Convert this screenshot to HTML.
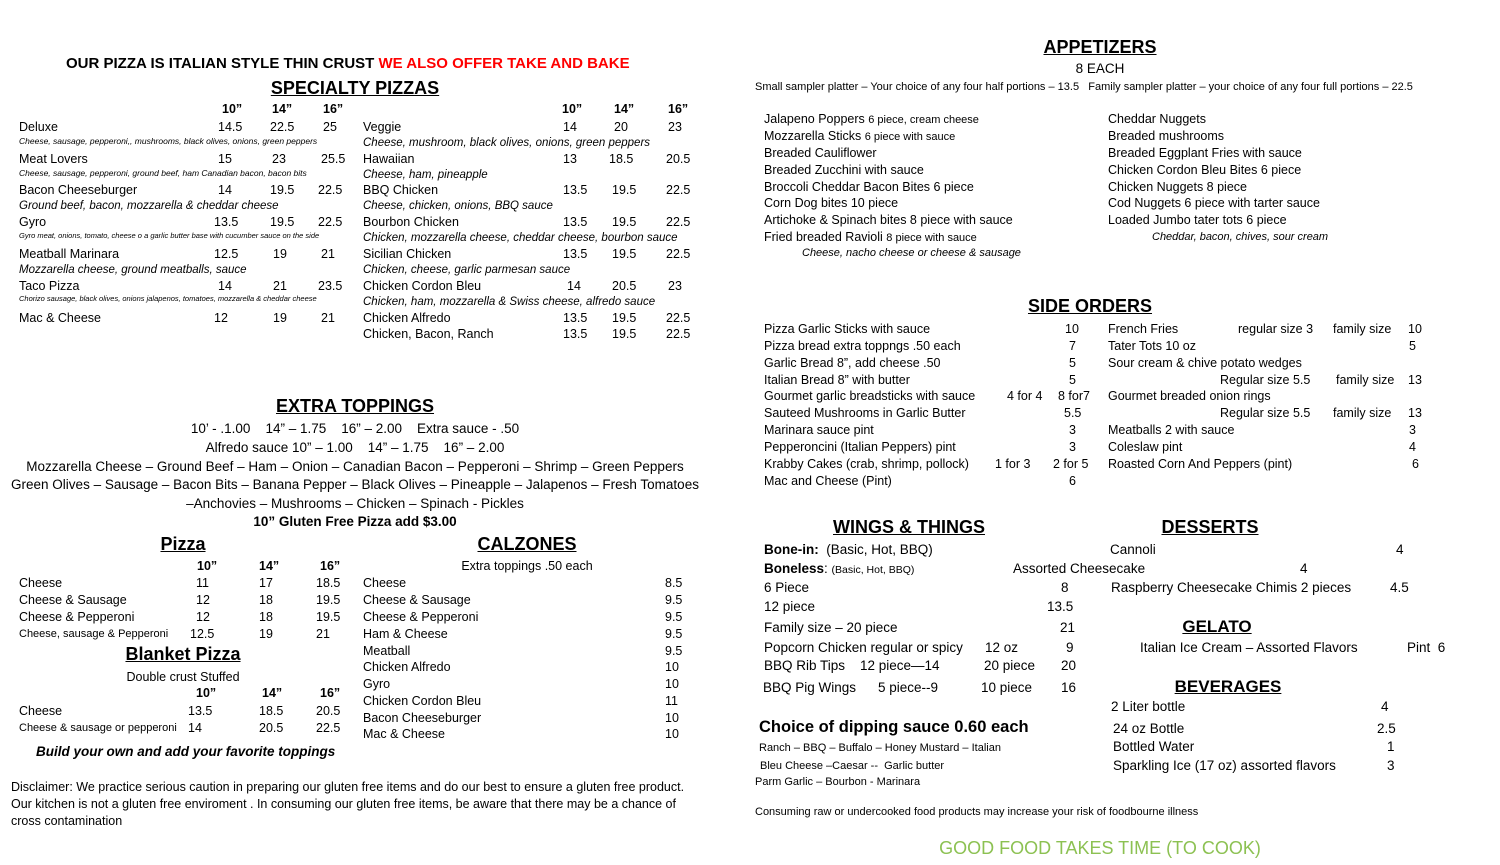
<!DOCTYPE html>
<html><head><meta charset="utf-8"><style>
body{margin:0;width:1500px;height:865px;background:#fff;position:relative;overflow:hidden;font-family:"Liberation Sans",sans-serif;color:#000}
div{position:absolute;white-space:nowrap;line-height:18px;font-size:12.5px}
.c{transform:translateX(-50%)}
.h{font-weight:bold;font-size:18px;text-decoration:underline;line-height:21px}
.s{font-size:8.5px;font-style:italic}
.i{font-style:italic;font-size:11.5px}
.m{font-size:13.5px}
.b{font-weight:bold}
</style></head><body>
<div class="b" style="left:66px;top:54px;font-size:15px;line-height:19px">OUR PIZZA IS ITALIAN STYLE THIN CRUST <span style="color:#ff0000">WE ALSO OFFER TAKE AND BAKE</span></div>
<div class="h c" style="left:355px;top:78px">SPECIALTY PIZZAS</div>
<div class="b" style="left:222px;top:100px">10”</div><div class="b" style="left:272px;top:100px">14”</div><div class="b" style="left:323px;top:100px">16”</div>
<div class="b" style="left:562px;top:100px">10”</div><div class="b" style="left:614px;top:100px">14”</div><div class="b" style="left:668px;top:100px">16”</div>

<div style="left:19px;top:118px">Deluxe</div><div style="left:218px;top:118px">14.5</div><div style="left:270px;top:118px">22.5</div><div style="left:323px;top:118px">25</div>
<div class="s" style="left:19px;top:132px">Cheese, sausage, pepperoni,, mushrooms, black olives, onions, green peppers</div>
<div style="left:19px;top:150px">Meat Lovers</div><div style="left:218px;top:150px">15</div><div style="left:272px;top:150px">23</div><div style="left:321px;top:150px">25.5</div>
<div class="s" style="left:19px;top:164px">Cheese, sausage, pepperoni, ground beef, ham Canadian bacon, bacon bits</div>
<div style="left:19px;top:181px">Bacon Cheeseburger</div><div style="left:218px;top:181px">14</div><div style="left:270px;top:181px">19.5</div><div style="left:318px;top:181px">22.5</div>
<div class="i" style="left:19px;top:197px">Ground beef, bacon, mozzarella &amp; cheddar cheese</div>
<div style="left:19px;top:213px">Gyro</div><div style="left:214px;top:213px">13.5</div><div style="left:270px;top:213px">19.5</div><div style="left:318px;top:213px">22.5</div>
<div class="s" style="left:19px;top:227px;font-size:7.5px">Gyro meat, onions, tomato, cheese o a garlic butter base with cucumber sauce on the side</div>
<div style="left:19px;top:245px">Meatball Marinara</div><div style="left:214px;top:245px">12.5</div><div style="left:273px;top:245px">19</div><div style="left:321px;top:245px">21</div>
<div class="i" style="left:19px;top:261px">Mozzarella cheese, ground meatballs, sauce</div>
<div style="left:19px;top:277px">Taco Pizza</div><div style="left:218px;top:277px">14</div><div style="left:273px;top:277px">21</div><div style="left:318px;top:277px">23.5</div>
<div class="s" style="left:19px;top:290px;font-size:7.5px">Chorizo sausage, black olives, onions jalapenos, tomatoes, mozzarella &amp; cheddar cheese</div>
<div style="left:19px;top:309px">Mac &amp; Cheese</div><div style="left:214px;top:309px">12</div><div style="left:273px;top:309px">19</div><div style="left:321px;top:309px">21</div>

<div style="left:363px;top:118px">Veggie</div><div style="left:563px;top:118px">14</div><div style="left:614px;top:118px">20</div><div style="left:668px;top:118px">23</div>
<div class="i" style="left:363px;top:134px">Cheese, mushroom, black olives, onions, green peppers</div>
<div style="left:363px;top:150px">Hawaiian</div><div style="left:563px;top:150px">13</div><div style="left:609px;top:150px">18.5</div><div style="left:666px;top:150px">20.5</div>
<div class="i" style="left:363px;top:166px">Cheese, ham, pineapple</div>
<div style="left:363px;top:181px">BBQ Chicken</div><div style="left:563px;top:181px">13.5</div><div style="left:612px;top:181px">19.5</div><div style="left:666px;top:181px">22.5</div>
<div class="i" style="left:363px;top:197px">Cheese, chicken, onions, BBQ sauce</div>
<div style="left:363px;top:213px">Bourbon Chicken</div><div style="left:563px;top:213px">13.5</div><div style="left:612px;top:213px">19.5</div><div style="left:666px;top:213px">22.5</div>
<div class="i" style="left:363px;top:229px">Chicken, mozzarella cheese, cheddar cheese, bourbon sauce</div>
<div style="left:363px;top:245px">Sicilian Chicken</div><div style="left:563px;top:245px">13.5</div><div style="left:612px;top:245px">19.5</div><div style="left:666px;top:245px">22.5</div>
<div class="i" style="left:363px;top:261px">Chicken, cheese, garlic parmesan sauce</div>
<div style="left:363px;top:277px">Chicken Cordon Bleu</div><div style="left:567px;top:277px">14</div><div style="left:612px;top:277px">20.5</div><div style="left:668px;top:277px">23</div>
<div class="i" style="left:363px;top:293px">Chicken, ham, mozzarella &amp; Swiss cheese, alfredo sauce</div>
<div style="left:363px;top:309px">Chicken Alfredo</div><div style="left:563px;top:309px">13.5</div><div style="left:612px;top:309px">19.5</div><div style="left:666px;top:309px">22.5</div>
<div style="left:363px;top:325px">Chicken, Bacon, Ranch</div><div style="left:563px;top:325px">13.5</div><div style="left:612px;top:325px">19.5</div><div style="left:666px;top:325px">22.5</div>

<div class="h c" style="left:355px;top:396px">EXTRA TOPPINGS</div>
<div class="m c" style="left:355px;top:420px">10’ - .1.00 &nbsp;&nbsp; 14” – 1.75 &nbsp;&nbsp; 16” – 2.00 &nbsp;&nbsp; Extra sauce - .50</div>
<div class="m c" style="left:355px;top:439px">Alfredo sauce 10” – 1.00 &nbsp;&nbsp; 14” – 1.75 &nbsp;&nbsp; 16” – 2.00</div>
<div class="m c" style="left:355px;top:458px">Mozzarella Cheese – Ground Beef – Ham – Onion – Canadian Bacon – Pepperoni – Shrimp – Green Peppers</div>
<div class="m c" style="left:355px;top:476px">Green Olives – Sausage – Bacon Bits – Banana Pepper – Black Olives – Pineapple – Jalapenos – Fresh Tomatoes</div>
<div class="m c" style="left:355px;top:495px">–Anchovies – Mushrooms – Chicken – Spinach - Pickles</div>
<div class="m c b" style="left:355px;top:513px">10” Gluten Free Pizza add $3.00</div>

<div class="h c" style="left:183px;top:534px">Pizza</div>
<div class="b" style="left:197px;top:557px">10”</div><div class="b" style="left:259px;top:557px">14”</div><div class="b" style="left:320px;top:557px">16”</div>
<div style="left:19px;top:574px">Cheese</div><div style="left:196px;top:574px">11</div><div style="left:259px;top:574px">17</div><div style="left:316px;top:574px">18.5</div>
<div style="left:19px;top:591px">Cheese &amp; Sausage</div><div style="left:196px;top:591px">12</div><div style="left:259px;top:591px">18</div><div style="left:316px;top:591px">19.5</div>
<div style="left:19px;top:608px">Cheese &amp; Pepperoni</div><div style="left:196px;top:608px">12</div><div style="left:259px;top:608px">18</div><div style="left:316px;top:608px">19.5</div>
<div style="left:19px;top:625px;font-size:11px">Cheese, sausage &amp; Pepperoni</div><div style="left:190px;top:625px">12.5</div><div style="left:259px;top:625px">19</div><div style="left:316px;top:625px">21</div>
<div class="h c" style="left:183px;top:644px">Blanket Pizza</div>
<div class="c" style="left:183px;top:668px">Double crust Stuffed</div>
<div class="b" style="left:196px;top:684px">10”</div><div class="b" style="left:262px;top:684px">14”</div><div class="b" style="left:320px;top:684px">16”</div>
<div style="left:19px;top:702px">Cheese</div><div style="left:188px;top:702px">13.5</div><div style="left:259px;top:702px">18.5</div><div style="left:316px;top:702px">20.5</div>
<div style="left:19px;top:719px;font-size:11px">Cheese &amp; sausage or pepperoni</div><div style="left:188px;top:719px">14</div><div style="left:259px;top:719px">20.5</div><div style="left:316px;top:719px">22.5</div>
<div class="b" style="left:36px;top:743px;font-style:italic;font-size:13.5px">Build your own and add your favorite toppings</div>
<div style="left:11px;top:778px">Disclaimer: We practice serious caution in preparing our gluten free items and do our best to ensure a gluten free product.</div>
<div style="left:11px;top:795px">Our kitchen is not a gluten free enviroment . In consuming our gluten free items, be aware that there may be a chance of</div>
<div style="left:11px;top:812px">cross contamination</div>

<div class="h c" style="left:527px;top:534px">CALZONES</div>
<div class="c" style="left:527px;top:557px">Extra toppings .50 each</div>
<div style="left:363px;top:574px">Cheese</div><div style="left:665px;top:574px">8.5</div>
<div style="left:363px;top:591px">Cheese &amp; Sausage</div><div style="left:665px;top:591px">9.5</div>
<div style="left:363px;top:608px">Cheese &amp; Pepperoni</div><div style="left:665px;top:608px">9.5</div>
<div style="left:363px;top:625px">Ham &amp; Cheese</div><div style="left:665px;top:625px">9.5</div>
<div style="left:363px;top:642px">Meatball</div><div style="left:665px;top:642px">9.5</div>
<div style="left:363px;top:658px">Chicken Alfredo</div><div style="left:665px;top:658px">10</div>
<div style="left:363px;top:675px">Gyro</div><div style="left:665px;top:675px">10</div>
<div style="left:363px;top:692px">Chicken Cordon Bleu</div><div style="left:665px;top:692px">11</div>
<div style="left:363px;top:709px">Bacon Cheeseburger</div><div style="left:665px;top:709px">10</div>
<div style="left:363px;top:725px">Mac &amp; Cheese</div><div style="left:665px;top:725px">10</div>

<div class="h c" style="left:1100px;top:37px">APPETIZERS</div>
<div class="c m" style="left:1100px;top:60px">8 EACH</div>
<div style="left:755px;top:78px;font-size:11px">Small sampler platter – Your choice of any four half portions – 13.5 &nbsp; Family sampler platter – your choice of any four full portions – 22.5</div>
<div style="left:764px;top:110px">Jalapeno Poppers <span style="font-size:11px">6 piece, cream cheese</span></div>
<div style="left:764px;top:127px">Mozzarella Sticks <span style="font-size:11px">6 piece with sauce</span></div>
<div style="left:764px;top:144px">Breaded Cauliflower</div>
<div style="left:764px;top:161px">Breaded Zucchini with sauce</div>
<div style="left:764px;top:178px">Broccoli Cheddar Bacon Bites 6 piece</div>
<div style="left:764px;top:194px">Corn Dog bites 10 piece</div>
<div style="left:764px;top:211px">Artichoke &amp; Spinach bites 8 piece with sauce</div>
<div style="left:764px;top:228px">Fried breaded Ravioli <span style="font-size:11px">8 piece with sauce</span></div>
<div class="i" style="left:802px;top:244px;font-size:11px">Cheese, nacho cheese or cheese &amp; sausage</div>
<div style="left:1108px;top:110px">Cheddar Nuggets</div>
<div style="left:1108px;top:127px">Breaded mushrooms</div>
<div style="left:1108px;top:144px">Breaded Eggplant Fries with sauce</div>
<div style="left:1108px;top:161px">Chicken Cordon Bleu Bites 6 piece</div>
<div style="left:1108px;top:178px">Chicken Nuggets 8 piece</div>
<div style="left:1108px;top:194px">Cod Nuggets 6 piece with tarter sauce</div>
<div style="left:1108px;top:211px">Loaded Jumbo tater tots 6 piece</div>
<div class="i" style="left:1152px;top:228px;font-size:11px">Cheddar, bacon, chives, sour cream</div>

<div class="h c" style="left:1090px;top:296px">SIDE ORDERS</div>
<div style="left:764px;top:320px">Pizza Garlic Sticks with sauce</div><div style="left:1065px;top:320px">10</div>
<div style="left:764px;top:337px">Pizza bread extra toppngs .50 each</div><div style="left:1069px;top:337px">7</div>
<div style="left:764px;top:354px">Garlic Bread 8”, add cheese .50</div><div style="left:1069px;top:354px">5</div>
<div style="left:764px;top:371px">Italian Bread 8” with butter</div><div style="left:1069px;top:371px">5</div>
<div style="left:764px;top:387px">Gourmet garlic breadsticks with sauce</div><div style="left:1007px;top:387px">4 for 4</div><div style="left:1058px;top:387px">8 for7</div>
<div style="left:764px;top:404px">Sauteed Mushrooms in Garlic Butter</div><div style="left:1064px;top:404px">5.5</div>
<div style="left:764px;top:421px">Marinara sauce pint</div><div style="left:1069px;top:421px">3</div>
<div style="left:764px;top:438px">Pepperoncini (Italian Peppers) pint</div><div style="left:1069px;top:438px">3</div>
<div style="left:764px;top:455px">Krabby Cakes (crab, shrimp, pollock)</div><div style="left:995px;top:455px">1 for 3</div><div style="left:1053px;top:455px">2 for 5</div>
<div style="left:764px;top:472px">Mac and Cheese (Pint)</div><div style="left:1069px;top:472px">6</div>
<div style="left:1108px;top:320px">French Fries</div><div style="left:1238px;top:320px">regular size 3</div><div style="left:1333px;top:320px">family size</div><div style="left:1408px;top:320px">10</div>
<div style="left:1108px;top:337px">Tater Tots 10 oz</div><div style="left:1409px;top:337px">5</div>
<div style="left:1108px;top:354px">Sour cream &amp; chive potato wedges</div>
<div style="left:1220px;top:371px">Regular size 5.5</div><div style="left:1336px;top:371px">family size</div><div style="left:1408px;top:371px">13</div>
<div style="left:1108px;top:387px">Gourmet breaded onion rings</div>
<div style="left:1220px;top:404px">Regular size 5.5</div><div style="left:1333px;top:404px">family size</div><div style="left:1408px;top:404px">13</div>
<div style="left:1108px;top:421px">Meatballs 2 with sauce</div><div style="left:1409px;top:421px">3</div>
<div style="left:1108px;top:438px">Coleslaw pint</div><div style="left:1409px;top:438px">4</div>
<div style="left:1108px;top:455px">Roasted Corn And Peppers (pint)</div><div style="left:1412px;top:455px">6</div>

<div class="h c" style="left:909px;top:517px">WINGS &amp; THINGS</div>
<div class="h c" style="left:1210px;top:517px">DESSERTS</div>
<div style="left:764px;top:541px;font-size:13.5px"><b>Bone-in:</b> &nbsp;(Basic, Hot, BBQ)</div>
<div style="left:764px;top:560px;font-size:13.5px"><b>Boneless</b>: <span style="font-size:10.5px">(Basic, Hot, BBQ)</span></div>
<div style="left:1013px;top:560px;font-size:13.5px">Assorted Cheesecake</div><div style="left:1300px;top:560px;font-size:13.5px">4</div>
<div style="left:764px;top:579px;font-size:13.5px">6 Piece</div><div style="left:1061px;top:579px;font-size:13.5px">8</div>
<div style="left:764px;top:598px;font-size:13.5px">12 piece</div><div style="left:1047px;top:598px;font-size:13.5px">13.5</div>
<div style="left:764px;top:619px;font-size:13.5px">Family size – 20 piece</div><div style="left:1060px;top:619px;font-size:13.5px">21</div>
<div style="left:764px;top:639px;font-size:13.5px">Popcorn Chicken regular or spicy</div><div style="left:985px;top:639px;font-size:13.5px">12 oz</div><div style="left:1066px;top:639px;font-size:13.5px">9</div>
<div style="left:764px;top:657px;font-size:13.5px">BBQ Rib Tips</div><div style="left:860px;top:657px;font-size:13.5px">12 piece—14</div><div style="left:984px;top:657px;font-size:13.5px">20 piece</div><div style="left:1061px;top:657px;font-size:13.5px">20</div>
<div style="left:763px;top:679px;font-size:13.5px">BBQ Pig Wings</div><div style="left:878px;top:679px;font-size:13.5px">5 piece--9</div><div style="left:981px;top:679px;font-size:13.5px">10 piece</div><div style="left:1061px;top:679px;font-size:13.5px">16</div>
<div class="b" style="left:759px;top:718px;font-size:16.5px;line-height:19px">Choice of dipping sauce 0.60 each</div>
<div style="left:759px;top:739px;font-size:11px">Ranch – BBQ – Buffalo – Honey Mustard – Italian</div>
<div style="left:760px;top:757px;font-size:11px">Bleu Cheese –Caesar -- &nbsp;Garlic butter</div>
<div style="left:755px;top:773px;font-size:11px">Parm Garlic – Bourbon - Marinara</div>
<div style="left:755px;top:803px;font-size:11px">Consuming raw or undercooked food products may increase your risk of foodbourne illness</div>
<div class="c" style="left:1100px;top:837px;font-size:18px;line-height:22px;color:#8cc152">GOOD FOOD TAKES TIME (TO COOK)</div>

<div style="left:1110px;top:541px;font-size:13.5px">Cannoli</div><div style="left:1396px;top:541px;font-size:13.5px">4</div>
<div style="left:1111px;top:579px;font-size:13.5px">Raspberry Cheesecake Chimis 2 pieces</div><div style="left:1390px;top:579px;font-size:13.5px">4.5</div>
<div class="h c" style="left:1217px;top:616px;font-size:17px">GELATO</div>
<div style="left:1140px;top:639px;font-size:13.5px">Italian Ice Cream – Assorted Flavors</div><div style="left:1407px;top:639px;font-size:13.5px">Pint &nbsp;6</div>
<div class="h c" style="left:1228px;top:676px;font-size:17px">BEVERAGES</div>
<div style="left:1111px;top:698px;font-size:13.5px">2 Liter bottle</div><div style="left:1381px;top:698px;font-size:13.5px">4</div>
<div style="left:1113px;top:720px;font-size:13.5px">24 oz Bottle</div><div style="left:1377px;top:720px;font-size:13.5px">2.5</div>
<div style="left:1113px;top:738px;font-size:13.5px">Bottled Water</div><div style="left:1387px;top:738px;font-size:13.5px">1</div>
<div style="left:1113px;top:757px;font-size:13.5px">Sparkling Ice (17 oz) assorted flavors</div><div style="left:1387px;top:757px;font-size:13.5px">3</div>
</body></html>
